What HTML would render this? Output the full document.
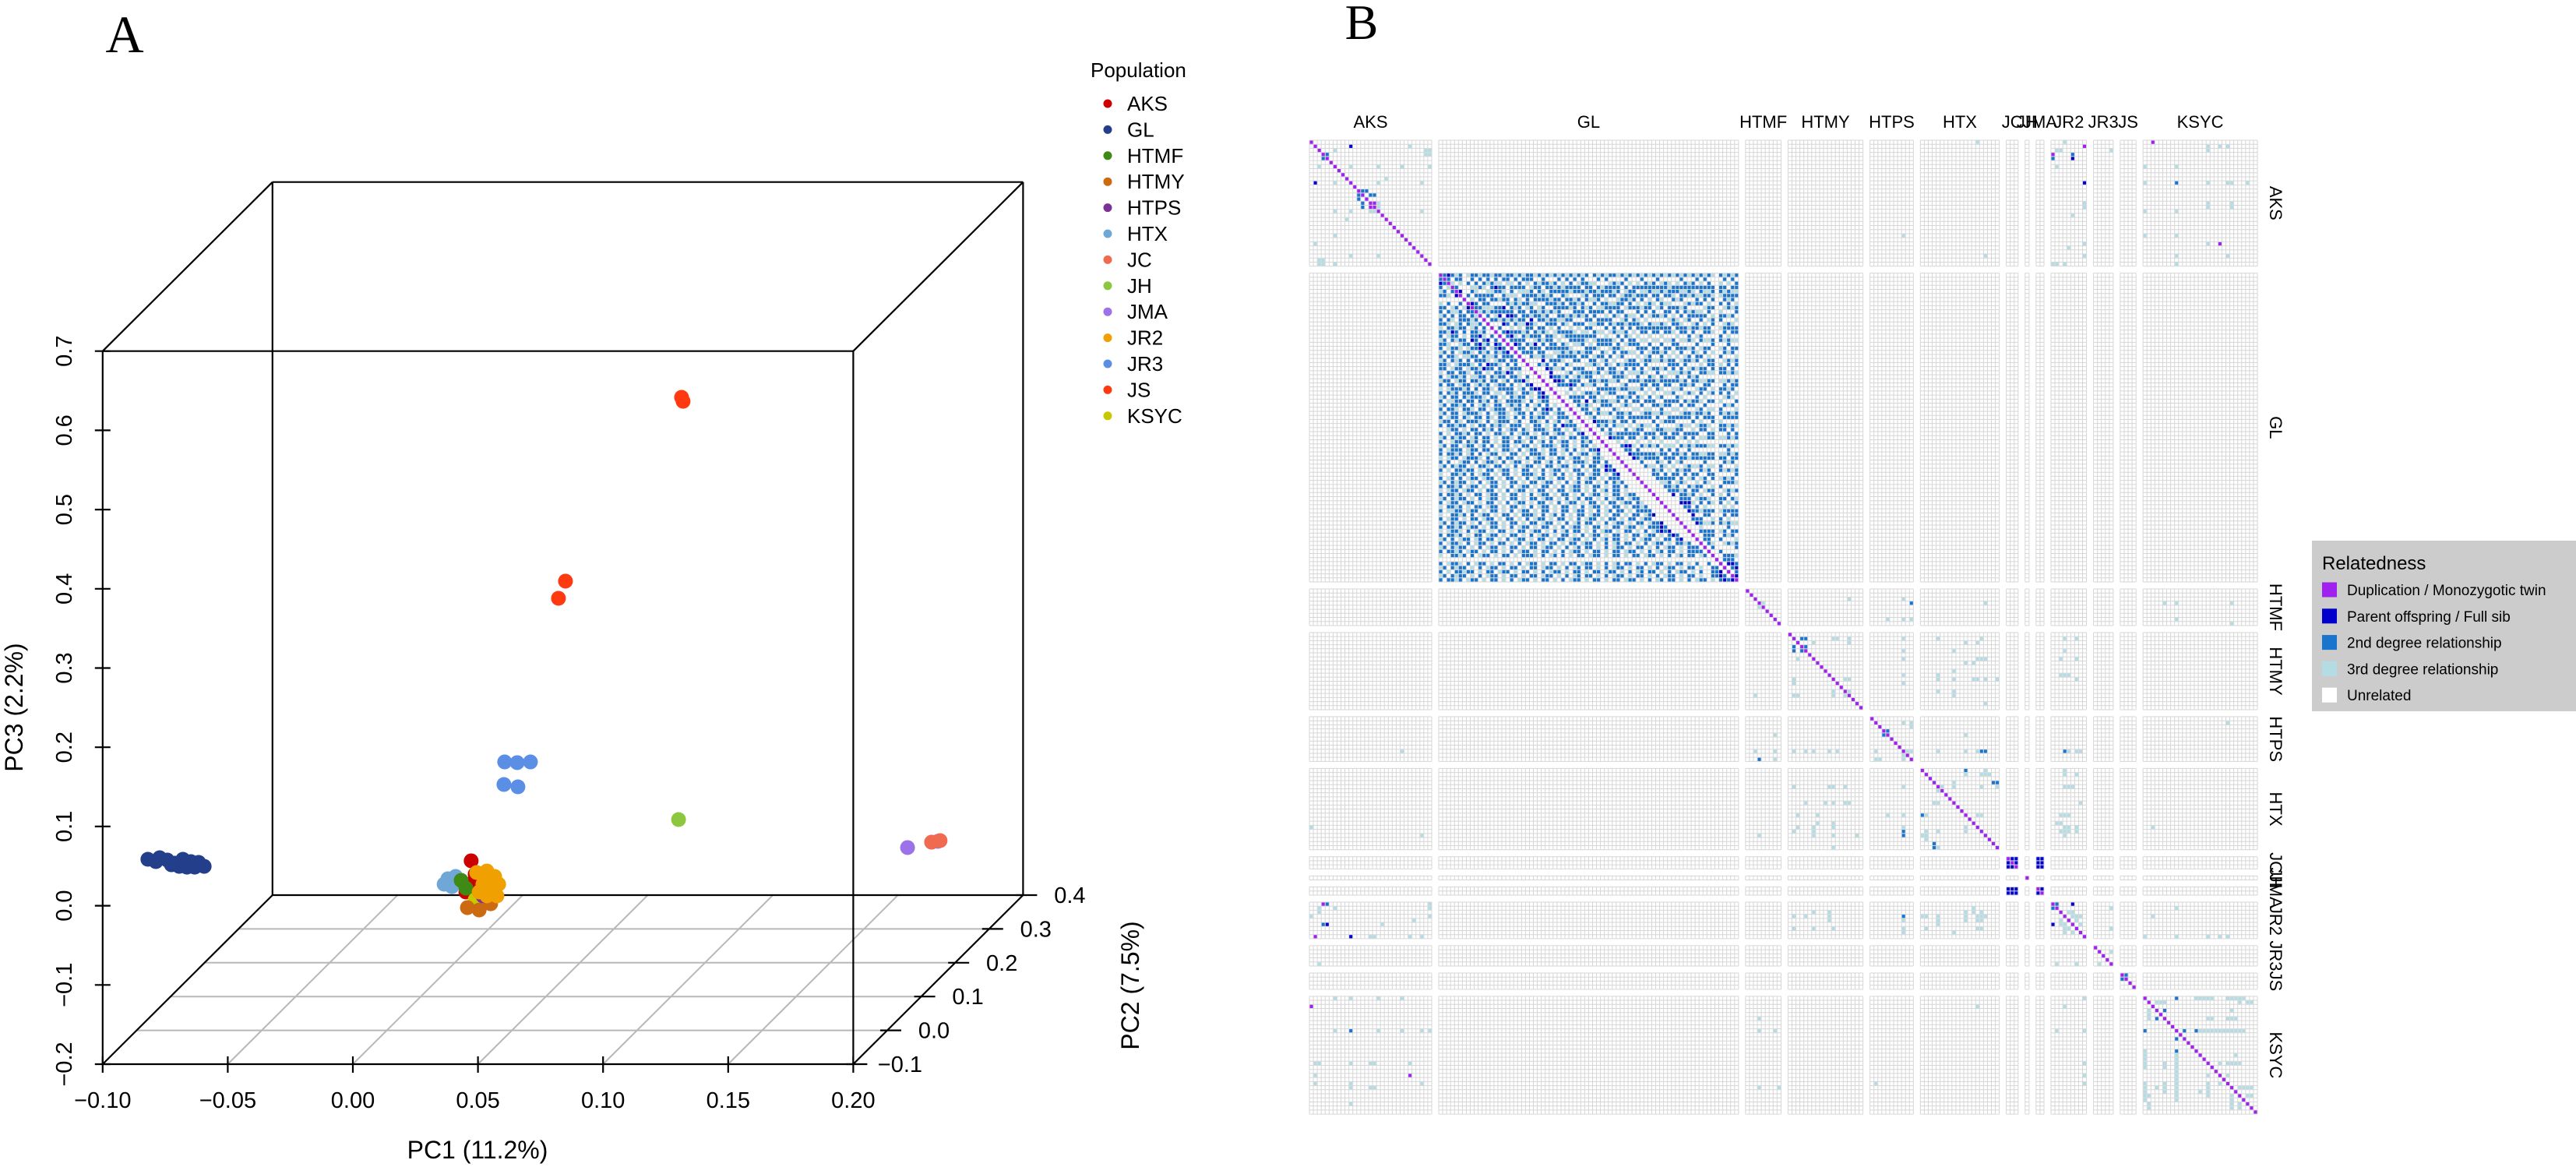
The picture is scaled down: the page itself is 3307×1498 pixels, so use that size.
<!DOCTYPE html>
<html><head><meta charset="utf-8"><title>PCA and relatedness</title>
<style>
html,body{margin:0;padding:0;background:#fff;}
svg{display:block;font-family:"Liberation Sans",sans-serif;}
</style></head>
<body>
<svg id="fig" width="3307" height="1498" viewBox="0 0 3307 1498" xmlns="http://www.w3.org/2000/svg">
<rect x="0" y="0" width="3307" height="1498" fill="#fff"/>
<text x="160" y="67" font-family="Liberation Serif,serif" font-size="68" text-anchor="middle">A</text>
<text x="1748" y="50" font-family="Liberation Serif,serif" font-size="64" text-anchor="middle">B</text>
<g id="pca"></g>
<g id="poplegend"></g>
<g id="heat"></g>
<g id="rellegend"></g>
</svg>
<script>
// ---------- PCA data ----------
const popNames = ["AKS","GL","HTMF","HTMY","HTPS","HTX","JC","JH","JMA","JR2","JR3","JS","KSYC"];
const popColors = ["#CC0000","#233F8C","#3F8A14","#CC6A12","#7B3294","#6FA8D6","#F06A50","#8DC63F","#9B72E8","#F0A000","#5B8FE6","#FF3A10","#C8C800"];
const pc1Ticks = ["\u22120.10","\u22120.05","0.00","0.05","0.10","0.15","0.20"];
const pc2Ticks = ["\u22120.1","0.0","0.1","0.2","0.3","0.4"];
const pc3Ticks = ["\u22120.2","\u22120.1","0.0","0.1","0.2","0.3","0.4","0.5","0.6","0.7"];
const ptPop = ["GL","GL","GL","GL","GL","GL","GL","GL","GL","GL","GL","GL","GL",
 "HTX","HTX","HTX","HTX","AKS","AKS","AKS","AKS","HTMF","HTMF","HTMF","HTMF","KSYC","KSYC",
 "HTMY","HTMY","HTMY","HTMY","HTPS","JR2","JR2","JR2","JR2","JR2","JR2","JR2","JR2","JR2",
 "JR3","JR3","JR3","JR3","JR3","JS","JS","JS","JS","JH","JMA","JMA","JC","JC"];
const ptPC1 = [-0.0955,-0.0908,-0.0877,-0.0846,-0.0815,-0.0783,-0.0752,-0.073,-0.083,-0.0799,-0.0768,-0.0861,-0.0923,
 0.0244,0.0275,0.0229,0.026,0.0337,0.0353,0.0331,0.0316,0.0297,0.0316,0.0384,0.0359,0.0353,0.0378,
 0.0322,0.0369,0.0415,0.0431,0.0384,0.0359,0.04,0.0431,0.0447,0.0384,0.0415,0.0369,0.044,0.04,
 0.0471,0.0521,0.0574,0.0468,0.0524,0.0714,0.0686,0.1178,0.1184,0.1166,0.1674,0.1795,0.177,0.1804];
const ptPC2 = [0,0,0,0,0,0,0,0,0,0,0,0,0,
 0,0,0,0,0,0,0,0,0,0,0,0,0,0,
 0,0,0,0,0,0,0,0,0,0,0,0,0,0,
 0,0,0,0,0,0,0,0,0,0,0.3,0.3,0.3,0.3];
const ptPC3 = [0.0159,0.0179,0.0149,0.011,0.0159,0.013,0.012,0.007,0.007,0.006,0.006,0.009,0.013,
 -0.0087,-0.0057,-0.0155,-0.0185,0.014,-0.0028,-0.0155,-0.0254,-0.0107,-0.0205,-0.0402,-0.0303,-0.0352,-0.0402,
 -0.0451,-0.0481,-0.0402,-0.0303,-0.0303,-0.0008,0.0011,-0.0057,-0.0155,-0.0155,-0.0205,-0.0254,-0.0303,-0.0303,
 0.1388,0.1379,0.1388,0.1103,0.1074,0.367,0.3453,0.599,0.594,0.0661,-0.0973,-0.0895,-0.0905,-0.0885];

// ---------- Heatmap data ----------
const hmPops = ["AKS","GL","HTMF","HTMY","HTPS","HTX","JC","JH","JMA","JR2","JR3","JS","KSYC"];
const hmCounts = [31,76,9,19,11,20,3,1,2,9,5,4,29];
const relLabels = ["Duplication / Monozygotic twin","Parent offspring / Full sib","2nd degree relationship","3rd degree relationship","Unrelated"];
const relColors = ["#A020F0","#0000CD","#1874CD","#B4DCE4","#FFFFFF"];
const relPairs = [
["AKS",1,"AKS",10,"1"],["AKS",3,"AKS",4,"2"],["AKS",2,"AKS",6,"3"],["AKS",1,"AKS",25,"3"],["AKS",2,"AKS",29,"3"],["AKS",3,"AKS",29,"3"],
["AKS",6,"AKS",10,"3"],["AKS",6,"AKS",17,"3"],["AKS",6,"AKS",23,"3"],["AKS",6,"AKS",30,"3"],["AKS",9,"AKS",19,"3"],["AKS",10,"AKS",17,"3"],
["AKS",10,"AKS",28,"3"],["AKS",12,"AKS",14,"2"],["AKS",13,"AKS",15,"2"],["AKS",13,"AKS",16,"2"],["AKS",15,"AKS",16,"d"],["AKS",15,"AKS",17,"3"],
["AKS",16,"AKS",17,"3"],["AKS",17,"AKS",28,"3"],["AKS",2,"AKS",30,"3"],["AKS",3,"AKS",30,"3"],["AKS",12,"AKS",13,"2"],
["AKS",0,"HTX",14,"3"],["AKS",23,"HTPS",8,"3"],["AKS",28,"HTX",16,"3"],
["AKS",0,"JR2",3,"3"],["AKS",1,"JR2",8,"d"],["AKS",2,"JR2",1,"3"],["AKS",2,"JR2",2,"3"],["AKS",3,"JR2",0,"d"],["AKS",4,"JR2",0,"2"],["AKS",3,"JR2",5,"2"],
["AKS",4,"JR2",5,"1"],["AKS",6,"JR2",1,"3"],["AKS",10,"JR2",8,"1"],["AKS",15,"JR2",8,"3"],["AKS",16,"JR2",8,"3"],["AKS",18,"JR2",5,"3"],["AKS",26,"JR2",4,"3"],
["AKS",25,"JR2",8,"3"],["AKS",28,"JR2",8,"3"],["AKS",30,"JR2",0,"3"],["AKS",30,"JR2",1,"3"],["AKS",30,"JR2",3,"3"],["AKS",2,"JR3",4,"3"],
["AKS",0,"KSYC",2,"d"],["AKS",1,"KSYC",16,"3"],["AKS",2,"KSYC",16,"3"],["AKS",1,"KSYC",19,"3"],["AKS",1,"KSYC",21,"3"],["AKS",6,"KSYC",0,"3"],["AKS",6,"KSYC",8,"3"],
["AKS",10,"KSYC",0,"3"],["AKS",10,"KSYC",8,"2"],["AKS",10,"KSYC",16,"3"],["AKS",10,"KSYC",21,"3"],["AKS",10,"KSYC",22,"3"],["AKS",10,"KSYC",26,"3"],
["AKS",15,"KSYC",16,"3"],["AKS",16,"KSYC",16,"3"],["AKS",15,"KSYC",22,"3"],["AKS",16,"KSYC",22,"3"],["AKS",17,"KSYC",0,"3"],["AKS",17,"KSYC",8,"3"],
["AKS",23,"KSYC",0,"3"],["AKS",23,"KSYC",8,"3"],["AKS",25,"KSYC",16,"3"],["AKS",25,"KSYC",19,"d"],["AKS",28,"KSYC",8,"3"],["AKS",28,"KSYC",21,"3"],["AKS",30,"KSYC",8,"3"],
["HTMF",3,"HTMF",4,"3"],["HTMF",2,"HTMY",15,"3"],["HTMF",2,"HTPS",8,"3"],["HTMF",3,"HTPS",10,"2"],["HTMF",7,"HTPS",4,"3"],["HTMF",7,"HTPS",8,"3"],["HTMF",7,"HTPS",10,"3"],
["HTMF",3,"HTX",16,"3"],["HTMF",3,"KSYC",5,"3"],["HTMF",3,"KSYC",8,"3"],["HTMF",3,"KSYC",22,"3"],["HTMF",7,"KSYC",8,"3"],["HTMF",8,"KSYC",22,"3"],
["HTMY",1,"HTMY",3,"2"],["HTMY",1,"HTMY",4,"2"],["HTMY",3,"HTMY",4,"2"],["HTMY",2,"HTMY",6,"3"],["HTMY",1,"HTMY",11,"3"],["HTMY",1,"HTMY",12,"3"],["HTMY",1,"HTMY",15,"3"],
["HTMY",11,"HTMY",14,"3"],["HTMY",14,"HTMY",15,"3"],["HTMY",11,"HTMY",15,"3"],["HTMY",2,"HTMY",15,"3"],
["HTMY",1,"HTPS",8,"3"],["HTMY",4,"HTPS",8,"3"],["HTMY",6,"HTPS",8,"3"],["HTMY",10,"HTPS",8,"3"],["HTMY",12,"HTPS",8,"3"],
["HTMY",1,"HTX",4,"3"],["HTMY",2,"HTX",11,"3"],["HTMY",2,"HTX",14,"3"],["HTMY",1,"HTX",15,"3"],["HTMY",4,"HTX",8,"3"],["HTMY",7,"HTX",11,"3"],["HTMY",7,"HTX",13,"3"],
["HTMY",6,"HTX",14,"3"],["HTMY",6,"HTX",15,"3"],["HTMY",6,"HTX",16,"3"],["HTMY",10,"HTX",4,"3"],["HTMY",11,"HTX",4,"3"],["HTMY",9,"HTX",8,"3"],["HTMY",11,"HTX",8,"3"],
["HTMY",11,"HTX",13,"3"],["HTMY",11,"HTX",14,"3"],["HTMY",11,"HTX",16,"3"],["HTMY",11,"HTX",19,"3"],["HTMY",14,"HTX",4,"3"],["HTMY",14,"HTX",8,"3"],["HTMY",15,"HTX",8,"3"],["HTMY",17,"HTX",16,"3"],
["HTMY",1,"JR2",3,"3"],["HTMY",1,"JR2",6,"3"],["HTMY",4,"JR2",3,"3"],["HTMY",6,"JR2",2,"3"],["HTMY",6,"JR2",6,"3"],["HTMY",10,"JR2",2,"3"],["HTMY",10,"JR2",3,"3"],["HTMY",10,"JR2",4,"3"],["HTMY",11,"JR2",6,"3"],
["HTPS",3,"HTPS",4,"2"],["HTPS",1,"HTPS",8,"3"],["HTPS",2,"HTPS",10,"3"],["HTPS",8,"HTPS",9,"3"],["HTPS",8,"HTPS",10,"3"],["HTPS",1,"HTPS",10,"3"],
["HTPS",8,"HTX",4,"3"],["HTPS",8,"HTX",11,"3"],["HTPS",8,"HTX",14,"3"],["HTPS",8,"HTX",16,"2"],["HTPS",8,"JR2",3,"2"],["HTPS",8,"JR2",4,"3"],["HTPS",8,"JR2",6,"3"],["HTPS",8,"JR2",7,"3"],["HTPS",1,"KSYC",21,"3"],
["HTPS",4,"HTX",11,"3"],["HTPS",8,"HTX",15,"2"],
["HTX",0,"HTX",11,"2"],["HTX",1,"HTX",16,"3"],["HTX",1,"HTX",17,"3"],["HTX",3,"HTX",19,"2"],["HTX",4,"HTX",5,"3"],["HTX",4,"HTX",8,"3"],["HTX",3,"HTX",8,"3"],
["HTX",1,"HTX",11,"3"],["HTX",11,"HTX",14,"3"],["HTX",0,"HTX",16,"3"],["HTX",1,"HTX",15,"3"],["HTX",4,"HTX",15,"3"],["HTX",11,"HTX",15,"3"],["HTX",3,"HTX",18,"2"],["HTX",4,"HTX",19,"3"],
["HTX",0,"JR2",3,"3"],["HTX",1,"JR2",3,"3"],["HTX",1,"JR2",6,"3"],["HTX",4,"JR2",3,"3"],["HTX",4,"JR2",4,"3"],["HTX",4,"JR2",5,"3"],["HTX",8,"JR2",7,"3"],["HTX",11,"JR2",2,"3"],["HTX",11,"JR2",3,"3"],
["HTX",11,"JR2",4,"3"],["HTX",13,"JR2",1,"3"],["HTX",13,"JR2",2,"3"],["HTX",14,"JR2",3,"3"],["HTX",14,"JR2",4,"3"],["HTX",14,"JR2",6,"3"],["HTX",15,"JR2",2,"3"],["HTX",15,"JR2",3,"3"],
["HTX",15,"JR2",4,"3"],["HTX",15,"JR2",6,"3"],["HTX",16,"JR2",3,"3"],["HTX",14,"KSYC",2,"3"],
["JC",0,"JC",1,"1"],["JC",0,"JC",2,"1"],["JC",1,"JC",2,"1"],["JC",0,"JMA",0,"1"],["JC",0,"JMA",1,"1"],["JC",1,"JMA",0,"1"],["JC",1,"JMA",1,"1"],["JC",2,"JMA",0,"1"],["JC",2,"JMA",1,"1"],["JMA",0,"JMA",1,"1"],
["JR2",0,"JR2",1,"2"],["JR2",0,"JR2",5,"1"],["JR2",2,"JR2",5,"3"],["JR2",3,"JR2",5,"3"],["JR2",3,"JR2",6,"3"],["JR2",4,"JR2",6,"3"],["JR2",2,"JR2",4,"3"],["JR2",5,"JR2",7,"3"],["JR2",3,"JR2",7,"3"],
["JR2",1,"JR3",4,"3"],["JR2",6,"JR3",4,"3"],["JR2",3,"KSYC",2,"3"],["JR2",1,"KSYC",8,"3"],["JR2",8,"KSYC",0,"3"],["JR2",8,"KSYC",8,"3"],["JR2",8,"KSYC",16,"3"],["JR2",8,"KSYC",19,"3"],["JR2",8,"KSYC",21,"3"],
["JR3",1,"JR3",4,"3"],["JS",0,"JS",1,"2"],
["KSYC",0,"KSYC",8,"2"],["KSYC",1,"KSYC",3,"3"],["KSYC",1,"KSYC",4,"3"],["KSYC",1,"KSYC",5,"3"],["KSYC",3,"KSYC",5,"2"],["KSYC",8,"KSYC",10,"2"],["KSYC",8,"KSYC",13,"2"],
["KSYC",0,"KSYC",14,"3"],["KSYC",0,"KSYC",15,"3"],["KSYC",0,"KSYC",16,"3"],["KSYC",0,"KSYC",17,"3"],["KSYC",0,"KSYC",21,"3"],["KSYC",0,"KSYC",22,"3"],["KSYC",0,"KSYC",23,"3"],["KSYC",0,"KSYC",24,"3"],["KSYC",0,"KSYC",25,"3"],
["KSYC",1,"KSYC",27,"3"],["KSYC",3,"KSYC",22,"3"],["KSYC",5,"KSYC",17,"3"],["KSYC",5,"KSYC",21,"3"],["KSYC",5,"KSYC",22,"3"],["KSYC",5,"KSYC",23,"3"],["KSYC",8,"KSYC",15,"3"],["KSYC",8,"KSYC",16,"3"],
["KSYC",8,"KSYC",17,"3"],["KSYC",8,"KSYC",20,"3"],["KSYC",8,"KSYC",21,"3"],["KSYC",8,"KSYC",22,"3"],["KSYC",8,"KSYC",23,"3"],["KSYC",8,"KSYC",24,"3"],["KSYC",8,"KSYC",25,"3"],
["KSYC",0,"KSYC",13,"3"],["KSYC",8,"KSYC",14,"3"],["KSYC",8,"KSYC",18,"3"],["KSYC",8,"KSYC",19,"3"],
["KSYC",5,"KSYC",16,"3"],["KSYC",16,"KSYC",19,"3"],["KSYC",16,"KSYC",21,"3"],["KSYC",16,"KSYC",22,"3"],["KSYC",16,"KSYC",23,"3"],["KSYC",16,"KSYC",24,"3"],["KSYC",14,"KSYC",23,"3"],
["KSYC",19,"KSYC",21,"3"],["KSYC",22,"KSYC",25,"3"],["KSYC",22,"KSYC",27,"3"],["KSYC",1,"KSYC",24,"3"],["KSYC",22,"KSYC",24,"3"],["KSYC",24,"KSYC",27,"3"],
["KSYC",22,"KSYC",26,"3"],["KSYC",1,"KSYC",26,"3"],["KSYC",24,"KSYC",26,"3"]
];
// GL block lower triangle (row i, col j<i): . unrelated, 3 third, 2 second, 1 parent/full sib
const glRows = [
"","2","12","2.3","32.2","223.1","......","3.2..2.","22.32.31","2.2332.22",
"32.2.22.23","2.23.22232.","223.32.2332","3.22322.32.2","22312.2.2232.","2.322.3.2213.2","32.2322.12.21.2","223..322.2132.12","2.3223.32212.3212","32.2.3223.232.2321",
"2.223.3322.2332.222","32.232.2.2223.322.22","223.32223.2.1223.2.2","22.322.3223122.2.3222","3.22.223.22.3.22312.3.","2.32232.3322.2322.223.2","322.322.2232.22.32.2213","2.22.322.3232.322.2.3.21","3.322232.2.223.2222.32.211","2.232.2223.22.33.223.223.21",
"32.22.232223.22.3.2322.3.212","2.3322.22.232.23.22223.2.322.","32.2232.2.323.22.3232.2.32.2.3","2.223.223.22.3222.322.3.2.212.2","32.22.32223.2.3223.322.2.322.322","2.322.23.22.23.223.2.2.2322.3.222","322.23.2223.2.3222.32..223.2.32.32","2.22322.3.22.2323.222.3.22.3.2.1222","..322.3.22.232.2.322.23.2223.22.3.23","2.3.2232.22.3.223.2.322.3.22.322.3.21",
"32.2322.32.22.3.223.2.322.3.22.3.22.22","2..322.232.22.3.22.223.2.32.2.322.3.232","32.22.322.32.2.322.3.22.3.2223.22.3.22.3","2.3222.322.22.3.223.2.322.3.22.32.2.3.221","2.2232.32.2.322.3.22.3.2223.22.3.2.322.32.","3.322.32223.2.32.22.3.2.322.3.22.322.3.223","2.2..322.2.3223.2.322.3.22.32.2.3.2223.22.2","32.2322.3.223.22.3.2.322.3.22.322.3.2.22.312","2.3.22322.3.22.322.3.22.3.2.322.3.22.3.22.121","3..2232.2.322.3.22.3.2223.2.32.2.3.22.322.3.21",
"2.32.2.322.322.3.22.3.2.322.3.22.3.2.322.3.222","32.2322.3.2.322.3.22.3.22.322.3.2.32.22.3.2.232","2.2232.322.3.22.3.2.322.3.22.3.2.322.3.22.3.22.2","3.322.322.3.22.3.2.322.3.22.3.22.322.3.2.32.22.3.","2.2232.3.22.322.3.22.3.2.322.3.22.3.2.322.3.22.322","32.2322.3.2.322.3.22.3.22.322.3.2.32.22.3.2.322.322","2.322.322.3.22.3.2.322.3.22.3.2.322.3.22.3.22.322.23","3.2232.3.22.322.3.22.3.2.322.3.22.3.2.322.3.22.3.2232","2.3322.322.3.22.3.2.322.3.22.3.22.322.3.2.32.22.3.2222","3..2232.2.322.3.22.3.2223.2.32.2.3.22.322.3.22.3.22.321",
"2.322.3.22.322.3.22.3.2.322.3.22.3.2.322.3.22.3.22.322.","32.2322.3.2.322.3.22.3.22.322.3.2.32.22.3.2.322.3.22.3221","2.2232.322.3.22.3.2.322.3.22.3.2.322.3.22.3.22.322.3.22212","3.3223.2.322.3.22.3.22.322.3.2.32.22.3.2.322.3.22.3.2.32121","2.2232.3.22.322.3.22.3.2.322.3.22.3.2.322.3.22.3.22.322.3.212","32.2.322.32.22.3.2.322.3.22.3.22.322.3.2.32.22.3.2.322.3.22.21","2.3223.2.322.3.22.3.2.322.3.22.3.22.322.3.2.32.22.3.2.322.3.2232","32.2322.3.2.322.3.22.3.22.322.3.2.32.22.3.2.322.3.22.3.2.322.3.222","2.2232.322.3.22.3.2.322.3.22.3.2.322.3.22.3.22.322.3.2.32.22.3.2222","3..2232.2.322.3.22.3.2223.2.32.2.3.22.322.3.22.3.22.322.3.2.32.22.32",
"","2.3223.2.322.3.22.3.2.322.3.22.3.22.322.3.2.32.22.3.2.322.3.22.3.2..2","32.2322.3.2.322.3.22.3.22.322.3.2.32.22.3.2.322.3.22.3.2.322.3.22.3..22","2.3.22322.3.22.322.3.22.3.2.322.3.22.3.22.322.3.2.32.22.3.2.322.3.2..221","32.2322.3.2.322.3.22.3.22.322.3.2.32.22.3.2.322.3.22.3.2.322.3.22.3..2212","2.2232.322.3.22.3.2.322.3.22.3.2.322.3.22.3.22.322.3.2.32.22.3.2.322.3.2121"
];

const NS = "http://www.w3.org/2000/svg";
function mk(tag, attrs, parent){ const e=document.createElementNS(NS,tag); for(const k in attrs) e.setAttribute(k,attrs[k]); parent.appendChild(e); return e; }

// ---------- PCA projection ----------
const pca = document.getElementById('pca');
const FX0 = 131.8, FY0 = 1366, SX = 160.6/0.05, SY = 101.7/0.1, DX = 43.6/0.1, DY = 43.4/0.1;
function px(p1,p2){ return FX0 + (p1+0.10)*SX + (p2+0.1)*DX; }
function py(p3,p2){ return FY0 - (p3+0.2)*SY - (p2+0.1)*DY; }
const P1MIN=-0.10,P1MAX=0.20,P2MIN=-0.1,P2MAX=0.4,P3MIN=-0.2,P3MAX=0.7;

for(let v=0; v<4; v++){ const p2 = 0.0+0.1*v;
  const l = mk('line',{x1:px(P1MIN,p2),y1:py(P3MIN,p2),x2:px(P1MAX,p2),y2:py(P3MIN,p2),stroke:'#b8b8b8','stroke-width':2},pca);
    }
for(let v=1; v<6; v++){ const p1 = P1MIN+0.05*v;
  const l = mk('line',{x1:px(p1,P2MIN),y1:py(P3MIN,P2MIN),x2:px(p1,P2MAX),y2:py(P3MIN,P2MAX),stroke:'#b8b8b8','stroke-width':2},pca);
    }
function C(a,b,c){ return [px(a,b),py(c,b)]; }
const edges = [
 [C(P1MIN,P2MIN,P3MIN),C(P1MAX,P2MIN,P3MIN)],[C(P1MIN,P2MIN,P3MAX),C(P1MAX,P2MIN,P3MAX)],
 [C(P1MIN,P2MIN,P3MIN),C(P1MIN,P2MIN,P3MAX)],[C(P1MAX,P2MIN,P3MIN),C(P1MAX,P2MIN,P3MAX)],
 [C(P1MIN,P2MAX,P3MIN),C(P1MAX,P2MAX,P3MIN)],[C(P1MIN,P2MAX,P3MAX),C(P1MAX,P2MAX,P3MAX)],
 [C(P1MIN,P2MAX,P3MIN),C(P1MIN,P2MAX,P3MAX)],[C(P1MAX,P2MAX,P3MIN),C(P1MAX,P2MAX,P3MAX)],
 [C(P1MIN,P2MIN,P3MIN),C(P1MIN,P2MAX,P3MIN)],[C(P1MAX,P2MIN,P3MIN),C(P1MAX,P2MAX,P3MIN)],
 [C(P1MIN,P2MIN,P3MAX),C(P1MIN,P2MAX,P3MAX)],[C(P1MAX,P2MIN,P3MAX),C(P1MAX,P2MAX,P3MAX)]];
edges.forEach(e=>{ const l=mk('line',{x1:e[0][0],y1:e[0][1],x2:e[1][0],y2:e[1][1],stroke:'#000','stroke-width':2.2},pca);
    });
pc1Ticks.forEach((t,i)=>{ const v=P1MIN+0.05*i; const x=px(v,P2MIN), y=py(P3MIN,P2MIN);
  const l=mk('line',{x1:x,y1:y-10,x2:x,y2:y+11,stroke:'#000','stroke-width':2.2},pca);
   
  const tx=mk('text',{x:x,y:y+56,'font-size':29,'text-anchor':'middle'},pca); tx.textContent=t;
    });
pc3Ticks.forEach((t,i)=>{ const v=P3MIN+0.1*i; const x=px(P1MIN,P2MIN), y=py(v,P2MIN);
  const l=mk('line',{x1:x-10,y1:y,x2:x+10,y2:y,stroke:'#000','stroke-width':2.2},pca);
   
  const tx=mk('text',{x:0,y:0,'font-size':29,'text-anchor':'middle',transform:`translate(${x-40},${y}) rotate(-90)`},pca); tx.textContent=t;
    });
pc2Ticks.forEach((t,i)=>{ const v=P2MIN+0.1*i; const x=px(P1MAX,v), y=py(P3MIN,v);
  const l=mk('line',{x1:x-9,y1:y,x2:x+18,y2:y,stroke:'#000','stroke-width':2.2},pca);
   
  const tx=mk('text',{x:x+60,y:y+10,'font-size':29,'text-anchor':'middle'},pca); tx.textContent=t;
    });
let at=mk('text',{x:613,y:1487,'font-size':32,'text-anchor':'middle'},pca); at.textContent='PC1 (11.2%)';
 
at=mk('text',{x:0,y:0,'font-size':32,'text-anchor':'middle',transform:'translate(29,908) rotate(-90)'},pca); at.textContent='PC3 (2.2%)';
 
at=mk('text',{x:0,y:0,'font-size':32,'text-anchor':'middle',transform:'translate(1462,1265) rotate(-90)'},pca); at.textContent='PC2 (7.5%)';
 
for(let i=0;i<ptPop.length;i++){ const ci=popNames.indexOf(ptPop[i]);
  const c=mk('circle',{cx:px(ptPC1[i],ptPC2[i]),cy:py(ptPC3[i],ptPC2[i]),r:9.5,fill:popColors[ci]},pca);
    }

// ---------- Population legend ----------
const pl=document.getElementById('poplegend');
let lt=mk('text',{x:1400,y:99,'font-size':26},pl); lt.textContent='Population';
 
popNames.forEach((n,i)=>{ const y=133+i*33.4;
  const g=mk('g',{},pl);  
  mk('circle',{cx:1422,cy:y,r:5.5,fill:popColors[i]},g);
  const t=mk('text',{x:1447,y:y+9,'font-size':26},g); t.textContent=n; });

// ---------- Heatmap ----------
const hm=document.getElementById('heat');
const HX0=1681, HY0=180, CW=5.064, CH=5.215, GAP=9;
const offs=[]; let acc=0; hmCounts.forEach(c=>{offs.push(acc); acc+=c;}); const N=acc;
const blockOf=[]; hmCounts.forEach((c,b)=>{ for(let k=0;k<c;k++) blockOf.push(b); });
function cx(j){ return HX0 + j*CW + blockOf[j]*GAP; }
function cy(i){ return HY0 + i*CH + blockOf[i]*GAP; }
let d='';
for(let rb=0; rb<hmCounts.length; rb++) for(let cb=0; cb<hmCounts.length; cb++){
  const x0=cx(offs[cb]), x1=x0+hmCounts[cb]*CW, y0=cy(offs[rb]), y1=y0+hmCounts[rb]*CH;
  for(let k=0;k<=hmCounts[cb];k++){ const x=(x0+k*CW).toFixed(2); d+=`M${x} ${y0.toFixed(2)}V${y1.toFixed(2)}`; }
  for(let k=0;k<=hmCounts[rb];k++){ const y=(y0+k*CH).toFixed(2); d+=`M${x0.toFixed(2)} ${y}H${x1.toFixed(2)}`; }
}
const grid=mk('path',{d:d,stroke:'#d6d6d6','stroke-width':1,fill:'none'},hm);
 
const M={};
function setCell(i,j,c){ M[i+','+j]=c; M[j+','+i]=c; }
for(let i=0;i<N;i++) setCell(i,i,'d');
const gl=offs[1];
for(let i=1;i<glRows.length;i++) for(let j=0;j<i;j++){ const ch=glRows[i].charAt(j); if(ch && ch!=='.') setCell(gl+i,gl+j,ch); }
relPairs.forEach(p=>{ const a=offs[hmPops.indexOf(p[0])]+p[1], b=offs[hmPops.indexOf(p[2])]+p[3]; setCell(a,b,p[4]); });
for(let i=0;i<N;i++) setCell(i,i,'d');
const codeIdx={'d':0,'1':1,'2':2,'3':3};
for(const k in M){ const [i,j]=k.split(',').map(Number); const col=relColors[codeIdx[M[k]]];
  const r=mk('rect',{x:(cx(j)+0.5).toFixed(2),y:(cy(i)+0.5).toFixed(2),width:(CW-1).toFixed(2),height:(CH-1).toFixed(2),fill:col},hm);
    }
hmPops.forEach((n,b)=>{ const xc=cx(offs[b])+hmCounts[b]*CW/2, yc=cy(offs[b])+hmCounts[b]*CH/2;
  const t=mk('text',{x:xc,y:164,'font-size':22,'text-anchor':'middle'},hm); t.textContent=n;
   
  const t2=mk('text',{x:0,y:0,'font-size':22,'text-anchor':'middle',transform:`translate(2914,${yc}) rotate(90)`},hm); t2.textContent=n;
    });

// ---------- Relatedness legend ----------
const rl=document.getElementById('rellegend');
const bg=mk('rect',{x:2968,y:694,width:339,height:219,fill:'#cccccc'},rl);
 
const rt=mk('text',{x:2981,y:731,'font-size':24},rl); rt.textContent='Relatedness';
 
relLabels.forEach((n,i)=>{ const y=757+i*33.8;
  const g=mk('g',{},rl);  
  mk('rect',{x:2981,y:y-9.5,width:19,height:19,fill:relColors[i]},g);
  const t=mk('text',{x:3013,y:y+7,'font-size':19},g); t.textContent=n; });
</script>
</body></html>
